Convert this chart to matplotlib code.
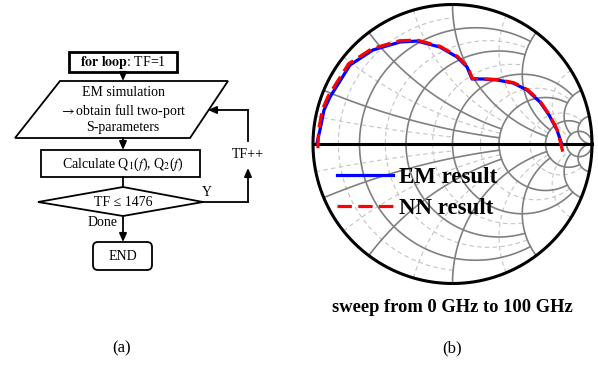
import numpy as np
import matplotlib
matplotlib.use("Agg")
import matplotlib.pyplot as plt
from matplotlib.patches import Polygon, Rectangle, FancyBboxPatch

plt.rcParams["font.family"] = ["Liberation Serif", "DejaVu Serif"]
plt.rcParams["mathtext.fontset"] = "stix"

em_re = [-0.971, -0.950, -0.921, -0.878, -0.735, -0.570, -0.376, -0.254, -0.090,
         0.032, 0.104, 0.140, 0.211, 0.319, 0.434, 0.534, 0.627, 0.692, 0.749, 0.785]
em_im = [0.007, 0.100, 0.244, 0.337, 0.566, 0.674, 0.731, 0.738, 0.695,
         0.624, 0.552, 0.466, 0.466, 0.459, 0.437, 0.387, 0.301, 0.208, 0.100, -0.007]
nn_re = [-0.965, -0.960, -0.932, -0.890, -0.745, -0.578, -0.380, -0.254, -0.088,
         0.036, 0.108, 0.142, 0.213, 0.322, 0.438, 0.538, 0.630, 0.695, 0.752, 0.790]
nn_im = [-0.030, 0.100, 0.250, 0.345, 0.575, 0.683, 0.740, 0.745, 0.700,
         0.628, 0.556, 0.470, 0.468, 0.462, 0.440, 0.390, 0.304, 0.210, 0.100, -0.055]

# grid values and where each line stops (fancy grid)
major_vals = [0.2, 0.5, 1.0, 2.0, 5.0, 10.0]
major_stop = [2.0, 2.0, 5.0, 5.0, 10.0, 1e4]
minor_vals = [0.1, 0.35, 0.75, 1.5, 3.5]
minor_stop = [1.0, 2.0, 2.0, 5.0, 10.0]

W, H = 598, 366
fig = plt.figure(figsize=(W / 100, H / 100), dpi=100)

# ---------------- (a) flowchart, drawn in pixel coords ----------------
axf = fig.add_axes([0, 0, 300 / W, 1])
axf.set_xlim(0, 300)
axf.set_ylim(H, 0)
axf.axis("off")

fs = 10
lw = 1.3


def arrow(x0, y0, x1, y1):
    axf.annotate("", xy=(x1, y1), xytext=(x0, y0),
                 arrowprops=dict(arrowstyle="-|>,head_length=0.5,head_width=0.22",
                                 lw=lw, color="black", shrinkA=0, shrinkB=0))


axf.add_patch(Rectangle((69, 52), 108, 20, fill=False, lw=2.0, ec="black"))
axf.text(123, 62.5, r"$\mathbf{for\ loop}$: TF=1", fontsize=fs, ha="center", va="center")
arrow(123, 72, 123, 81)

axf.add_patch(Polygon([(60, 81), (228, 81), (190, 138), (15, 138)], closed=True,
                      fill=False, lw=lw, ec="black"))
axf.text(123, 93, "EM simulation", fontsize=fs, ha="center", va="center")
axf.text(123, 111, r"$\rightarrow$obtain full two-port", fontsize=fs, ha="center", va="center")
axf.text(123, 128, "S-parameters", fontsize=fs, ha="center", va="center")
arrow(123, 138, 123, 150)

axf.add_patch(Rectangle((41, 150), 159, 27, fill=False, lw=lw, ec="black"))
axf.text(123, 164, r"Calculate Q$_1$($f$), Q$_2$($f$)", fontsize=fs, ha="center", va="center")
axf.plot([123, 123], [177, 187], color="black", lw=lw)

axf.add_patch(Polygon([(123, 187), (203, 202), (123, 216), (38, 202)], closed=True,
                      fill=False, lw=lw, ec="black"))
axf.text(123, 202, "TF \u2264 1476", fontsize=fs, ha="center", va="center")
axf.text(207, 192, "Y", fontsize=fs, ha="center", va="center")
axf.plot([203, 248], [202, 202], color="black", lw=lw)
arrow(248, 202, 248, 168)
axf.text(248, 155, "TF++", fontsize=fs, ha="center", va="center")
axf.plot([248, 248], [141, 110], color="black", lw=lw)
arrow(248, 110, 208, 110)

axf.text(118, 222, "Done", fontsize=fs, ha="right", va="center")
arrow(123, 216, 123, 242)
axf.add_patch(FancyBboxPatch((93, 242), 59, 28, boxstyle="round,pad=0,rounding_size=5",
                             fill=False, lw=lw, ec="black"))
axf.text(122.5, 256, "END", fontsize=fs, ha="center", va="center")

fig.text(122 / W, 1 - 348 / H, "(a)", fontsize=12, ha="center", va="center")

# ---------------- (b) Smith chart ----------------
cx, cy, R = 452.5, 144.0, 139.5
ax = fig.add_axes([(cx - R) / W, (H - cy - R) / H, 2 * R / W, 2 * R / H])
ax.set_xlim(-1, 1)
ax.set_ylim(-1, 1)
ax.set_aspect("equal")
ax.axis("off")


def gamma(z):
    return (z - 1) / (z + 1)


def grid(vals, stops, **kw):
    for v, stop in zip(vals, stops):
        a = np.arctan(stop)
        t = np.tan(np.linspace(-a, a, 1500))
        g = gamma(v + 1j * t)
        ax.plot(g.real, g.imag, **kw)
        s = np.tan(np.linspace(0, a, 1500))
        for sgn in (1, -1):
            g = gamma(s + 1j * sgn * v)
            ax.plot(g.real, g.imag, **kw)


grid(minor_vals, minor_stop, color="#c4c4c4", lw=0.8, ls=(0, (4, 3)))
grid(major_vals, major_stop, color="#808080", lw=1.2)

th = np.linspace(0, 2 * np.pi, 500)
ax.plot(np.cos(th), np.sin(th), color="black", lw=2.2, clip_on=False)
ax.plot([-1, 1], [0, 0], color="black", lw=2.2, clip_on=False)

ax.plot(em_re, em_im, color="#0000ff", lw=2.3, label="EM result")
ax.plot(nn_re, nn_im, color="#ff0000", lw=2.3, ls=(0, (4.5, 2)), label="NN result")

leg = ax.legend(loc="upper left", bbox_to_anchor=(0.045, 0.46), frameon=False,
                prop={"family": "Liberation Serif", "weight": "bold", "size": 16.5},
                handlelength=2.45, handletextpad=0.25, labelspacing=0.45, borderpad=0)

fig.text(452 / W, 1 - 308 / H, "sweep from 0 GHz to 100 GHz", fontsize=13.3,
         fontweight="bold", ha="center", va="center")
fig.text(452 / W, 1 - 348 / H, "(b)", fontsize=12, ha="center", va="center")

fig.savefig("out.png", dpi=100)
